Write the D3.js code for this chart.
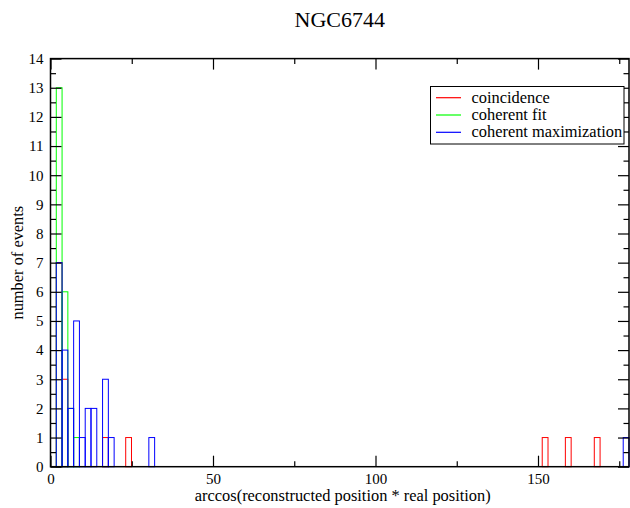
<!DOCTYPE html>
<html>
<head>
<meta charset="utf-8">
<script src="https://cdn.jsdelivr.net/npm/d3@7"></script>
<style>
body { margin: 0; background: #fff; }
text { font-family: "Liberation Serif", "Times New Roman", serif; fill: #000; }
</style>
</head>
<body>
<script>
// histogram bins: 100 bins over 0..178 degrees
var binWidth = 1.78;
var xTicks = [0, 50, 100, 150];
var yTicks = [0, 1, 2, 3, 4, 5, 6, 7, 8, 9, 10, 11, 12, 13, 14];

// left edge of each filled bin (degrees) and its count
var coincidenceBins   = [1.78, 3.56, 16.02, 23.14, 151.30, 158.42, 167.32];
var coincidenceCounts = [7, 3, 1, 1, 1, 1, 1];
var fitBins   = [1.78, 3.56, 5.34, 7.12];
var fitCounts = [13, 6, 2, 1];
var maxBins   = [1.78, 3.56, 5.34, 7.12, 8.90, 10.68, 12.46, 16.02, 17.80, 30.26, 176.22];
var maxCounts = [7, 4, 2, 5, 1, 2, 2, 3, 1, 1, 1];

var seriesNames = ["coincidence", "coherent fit", "coherent maximization"];
var seriesColors = ["#ff0000", "#00ff00", "#0000ff"];

var W = 630, H = 508;
var m = { left: 50.5, right: 629, top: 58.6, bottom: 466.7 };

var svg = d3.select("body").append("svg").attr("width", W).attr("height", H);

var x = d3.scaleLinear().domain([0, 178]).range([m.left, m.right]);
var y = d3.scaleLinear().domain([0, 14]).range([m.bottom, m.top]);

// bars: outline boxes, red under green under blue
var series = [
	{ bins: coincidenceBins, counts: coincidenceCounts },
	{ bins: fitBins, counts: fitCounts },
	{ bins: maxBins, counts: maxCounts }
];
series.forEach(function(s, k) {
	var d = s.bins.map(function(b, i) { return { x0: b, n: s.counts[i] }; });
	svg.append("g").selectAll("rect").data(d).enter().append("rect")
		.attr("x", function(d) { return x(d.x0); })
		.attr("y", function(d) { return y(d.n); })
		.attr("width", function(d) { return x(d.x0 + binWidth) - x(d.x0); })
		.attr("height", function(d) { return y(0) - y(d.n); })
		.attr("fill", "none")
		.attr("stroke", seriesColors[k])
		.attr("stroke-width", 1);
});

// ticks, all pointing inward
function styleAxis(g) {
	g.select(".domain").remove();
	g.selectAll("line").attr("stroke", "#000").attr("stroke-width", 1.2);
	g.selectAll("text").style("font-family", '"Liberation Serif", serif').style("font-size", "15px").attr("fill", "#000");
}
var minorY = d3.range(0, 14.01, 0.5).filter(function(v) { return v % 1 !== 0; });
var minorX = [25, 75, 125, 175];

svg.append("g").attr("transform", "translate(" + m.left + ",0)")
	.call(d3.axisLeft(y).tickValues(yTicks).tickSize(-11).tickPadding(7).tickFormat(d3.format("d"))).call(styleAxis);
svg.append("g").attr("transform", "translate(" + m.left + ",0)")
	.call(d3.axisLeft(y).tickValues(minorY).tickSize(-5.5).tickFormat("")).call(styleAxis);
svg.append("g").attr("transform", "translate(" + m.right + ",0)")
	.call(d3.axisRight(y).tickValues(yTicks).tickSize(-11).tickFormat("")).call(styleAxis);
svg.append("g").attr("transform", "translate(" + m.right + ",0)")
	.call(d3.axisRight(y).tickValues(minorY).tickSize(-5.5).tickFormat("")).call(styleAxis);

svg.append("g").attr("transform", "translate(0," + m.bottom + ")")
	.call(d3.axisBottom(x).tickValues(xTicks).tickSize(-11).tickPadding(7).tickFormat(d3.format("d"))).call(styleAxis);
svg.append("g").attr("transform", "translate(0," + m.bottom + ")")
	.call(d3.axisBottom(x).tickValues(minorX).tickSize(-5.5).tickFormat("")).call(styleAxis);
svg.append("g").attr("transform", "translate(0," + m.top + ")")
	.call(d3.axisTop(x).tickValues(xTicks).tickSize(-11).tickFormat("")).call(styleAxis);
svg.append("g").attr("transform", "translate(0," + m.top + ")")
	.call(d3.axisTop(x).tickValues(minorX).tickSize(-5.5).tickFormat("")).call(styleAxis);

// frame
svg.append("rect")
	.attr("x", m.left).attr("y", m.top)
	.attr("width", m.right - m.left).attr("height", m.bottom - m.top)
	.attr("fill", "none").attr("stroke", "#000").attr("stroke-width", 1.5);

// titles
svg.append("text").attr("x", (m.left + m.right) / 2).attr("y", 27)
	.attr("text-anchor", "middle").style("font-size", "22px").text("NGC6744");
svg.append("text").attr("x", (m.left + m.right) / 2 + 3).attr("y", 501)
	.attr("text-anchor", "middle").style("font-size", "16.4px")
	.text("arccos(reconstructed position * real position)");
svg.append("text")
	.attr("transform", "translate(23," + ((m.top + m.bottom) / 2) + ") rotate(-90)")
	.attr("text-anchor", "middle").style("font-size", "16.4px").text("number of events");

// legend
var lg = svg.append("g");
lg.append("rect").attr("x", 430.5).attr("y", 86.5).attr("width", 193.5).attr("height", 57.5)
	.attr("fill", "#fff").attr("stroke", "#000").attr("stroke-width", 1);
seriesNames.forEach(function(name, i) {
	var ly = 97.7 + i * 17.3;
	lg.append("line").attr("x1", 436).attr("x2", 461).attr("y1", ly).attr("y2", ly)
		.attr("stroke", seriesColors[i]).attr("stroke-width", 1.2);
	lg.append("text").attr("x", 471.5).attr("y", ly + 5).style("font-size", "16.4px").text(name);
});
</script>
</body>
</html>
